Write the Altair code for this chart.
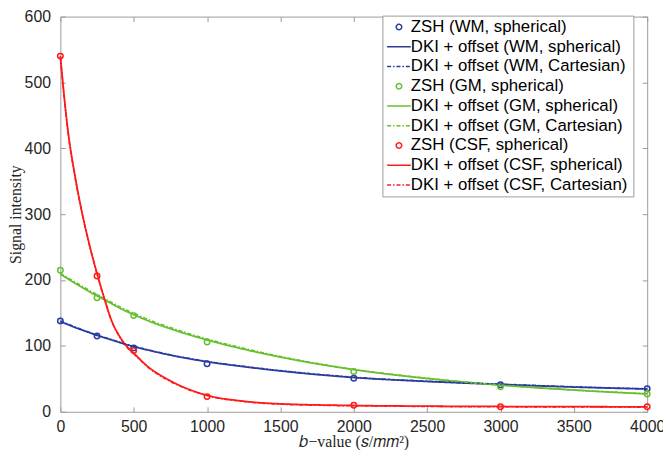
import altair as alt
import pandas as pd

# ---------------- data ----------------
series = [
    "ZSH (WM, spherical)", "DKI + offset (WM, spherical)", "DKI + offset (WM, Cartesian)",
    "ZSH (GM, spherical)", "DKI + offset (GM, spherical)", "DKI + offset (GM, Cartesian)",
    "ZSH (CSF, spherical)", "DKI + offset (CSF, spherical)", "DKI + offset (CSF, Cartesian)",
]

b_meas = [0, 250, 500, 1000, 2000, 3000, 4000]
zsh_wm = [138, 115, 97, 73, 51, 41, 35]
zsh_gm = [215, 173, 146, 106, 61, 38, 27]
zsh_csf = [540, 206, 93, 23, 10, 7.5, 7.5]

b_fit = [0, 50, 100, 150, 200, 250, 300, 350, 400, 450, 500, 600, 750, 1000,
         1250, 1500, 2000, 2500, 3000, 3500, 4000]
wm_sph = [137, 132.5, 128, 124, 120, 116, 112.5, 109, 105.5, 102, 99, 93.5, 86, 76,
          68.5, 62, 52, 46, 41.5, 37.5, 34.5]
wm_cart = [138, 133.5, 129, 124.5, 120.5, 116.5, 113, 109.5, 106, 102.5, 99.5, 94, 86.5, 76.5,
           69, 62.5, 52.5, 46.5, 42, 38, 35]
gm_sph = [209, 202, 195, 188.5, 182, 176, 170, 164, 158, 152.5, 147.5, 138, 126, 109,
          95, 83, 64, 50.5, 40.5, 33, 27]
gm_cart = [210, 203.5, 197, 190.5, 184, 178, 172, 166, 160, 154.5, 149.5, 140, 128, 110.5,
           96.5, 84, 64.5, 51, 40.5, 33, 27.5]
csf_sph = [540, 430, 358, 300, 252, 210, 172, 138, 116, 100, 89, 68, 47, 25,
           16, 12, 9.5, 8.5, 8, 7.7, 7.5]
csf_cart = [539, 428, 356, 299, 251, 209, 171, 137, 115, 99, 88, 67, 46, 24.5,
            15.5, 11.5, 9, 8, 7.5, 7.2, 7]

x_ticks = [0, 500, 1000, 1500, 2000, 2500, 3000, 3500, 4000]
y_ticks = [0, 100, 200, 300, 400, 500, 600]

# ---------------- tables ----------------
pts = pd.concat([
    pd.DataFrame({"b": b_meas, "v": zsh_wm, "s": series[0]}),
    pd.DataFrame({"b": b_meas, "v": zsh_gm, "s": series[3]}),
    pd.DataFrame({"b": b_meas, "v": zsh_csf, "s": series[6]}),
])
sph = pd.concat([
    pd.DataFrame({"b": b_fit, "v": wm_sph, "s": series[1]}),
    pd.DataFrame({"b": b_fit, "v": gm_sph, "s": series[4]}),
    pd.DataFrame({"b": b_fit, "v": csf_sph, "s": series[7]}),
])
cart = pd.concat([
    pd.DataFrame({"b": b_fit, "v": wm_cart, "s": series[2]}),
    pd.DataFrame({"b": b_fit, "v": gm_cart, "s": series[5]}),
    pd.DataFrame({"b": b_fit, "v": csf_cart, "s": series[8]}),
])

# ---------------- styles ----------------
BLUE, GREEN, RED = "#2a3c9e", "#66c02e", "#ff1a1a"
color_range = [BLUE] * 3 + [GREEN] * 3 + [RED] * 3
CIRC = "M0.46,0A0.46,0.46,0,1,1,-0.46,0A0.46,0.46,0,1,1,0.46,0Z"
LINE = "M-2,0H2"
shape_range = [CIRC, LINE, LINE] * 3
dash_range = [[1, 0], [1, 0], [4, 2, 1.5, 2]] * 3

W, H = 594, 400
GRAY = "#9a9a9a"
TXT = "#262626"

xs = alt.Scale(domain=[0, 4000], nice=False, zero=False)
ys = alt.Scale(domain=[0, 600], nice=False, zero=False)
col = alt.Scale(domain=series, range=color_range)
shp = alt.Scale(domain=series, range=shape_range)
dsh = alt.Scale(domain=series, range=dash_range)

leg = alt.Legend(title="\u2003", titleOrient="right", titleFontSize=32, titlePadding=3,
                 orient="none", legendX=326, legendY=-1)

main_x = alt.Axis(orient="bottom", values=x_ticks, format="d", ticks=False, tickSize=0, domain=False,
                  labelFlush=False, labelPadding=7, labelFontSize=16, labelFont="Liberation Sans",
                  labelColor=TXT,
                  title="𝑏−value (𝑠/𝑚𝑚²)", titleFont="Liberation Serif", titleFontSize=16,
                  titleFontWeight="normal", titleColor=TXT, titlePadding=-1, grid=False)
main_y = alt.Axis(orient="left", values=y_ticks, format="d", ticks=False, tickSize=0, domain=False,
                  labelFlush=False, labelPadding=10, labelFontSize=16, labelFont="Liberation Sans",
                  labelColor=TXT,
                  title="Signal intensity", titleFont="Liberation Serif", titleFontSize=16,
                  titleFontWeight="normal", titleColor=TXT, titlePadding=1, grid=False)


def tick_axis(orient, values, offset):
    return alt.Axis(orient=orient, values=values, offset=offset, labels=False, domain=False,
                    tickSize=5, tickColor=GRAY, tickWidth=1, title=None, grid=False)


points = alt.Chart(pts).mark_point(filled=False, size=144, strokeWidth=1.5, opacity=1).encode(
    x=alt.X("b:Q", scale=xs, axis=main_x),
    y=alt.Y("v:Q", scale=ys, axis=main_y),
    color=alt.Color("s:N", scale=col, legend=leg),
    shape=alt.Shape("s:N", scale=shp, legend=leg),
)

lines_sph = alt.Chart(sph).mark_line(strokeWidth=1.8, interpolate="monotone").encode(
    x=alt.X("b:Q", scale=xs, axis=tick_axis("top", x_ticks, -H)),
    y=alt.Y("v:Q", scale=ys, axis=tick_axis("right", y_ticks, -W)),
    color=alt.Color("s:N", scale=col, legend=leg),
    strokeDash=alt.StrokeDash("s:N", scale=dsh, legend=leg),
)

lines_cart = alt.Chart(cart).mark_line(strokeWidth=1.5, interpolate="monotone").encode(
    x=alt.X("b:Q", scale=xs, axis=tick_axis("bottom", x_ticks, -H)),
    y=alt.Y("v:Q", scale=ys, axis=tick_axis("left", y_ticks, -W)),
    color=alt.Color("s:N", scale=col, legend=leg),
    strokeDash=alt.StrokeDash("s:N", scale=dsh, legend=leg),
)

chart = alt.layer(points, lines_sph, lines_cart).resolve_axis(
    x="independent", y="independent"
).properties(
    width=W, height=H,
    autosize=alt.AutoSizeParams(type="none"),
    padding={"left": 53, "top": 6, "right": 16, "bottom": 36},
).configure_view(
    stroke=GRAY, strokeWidth=1
).configure_legend(
    padding=3, rowPadding=2.0, labelFontSize=17, labelFont="Liberation Sans", labelColor="#000000",
    symbolStrokeWidth=1.5, symbolSize=144, symbolOffset=5.25, labelOffset=3.5,
    fillColor="#ffffff", strokeColor=GRAY, labelLimit=400,
)

chart.save("out.html", embed_options={"renderer": "svg", "actions": False})
